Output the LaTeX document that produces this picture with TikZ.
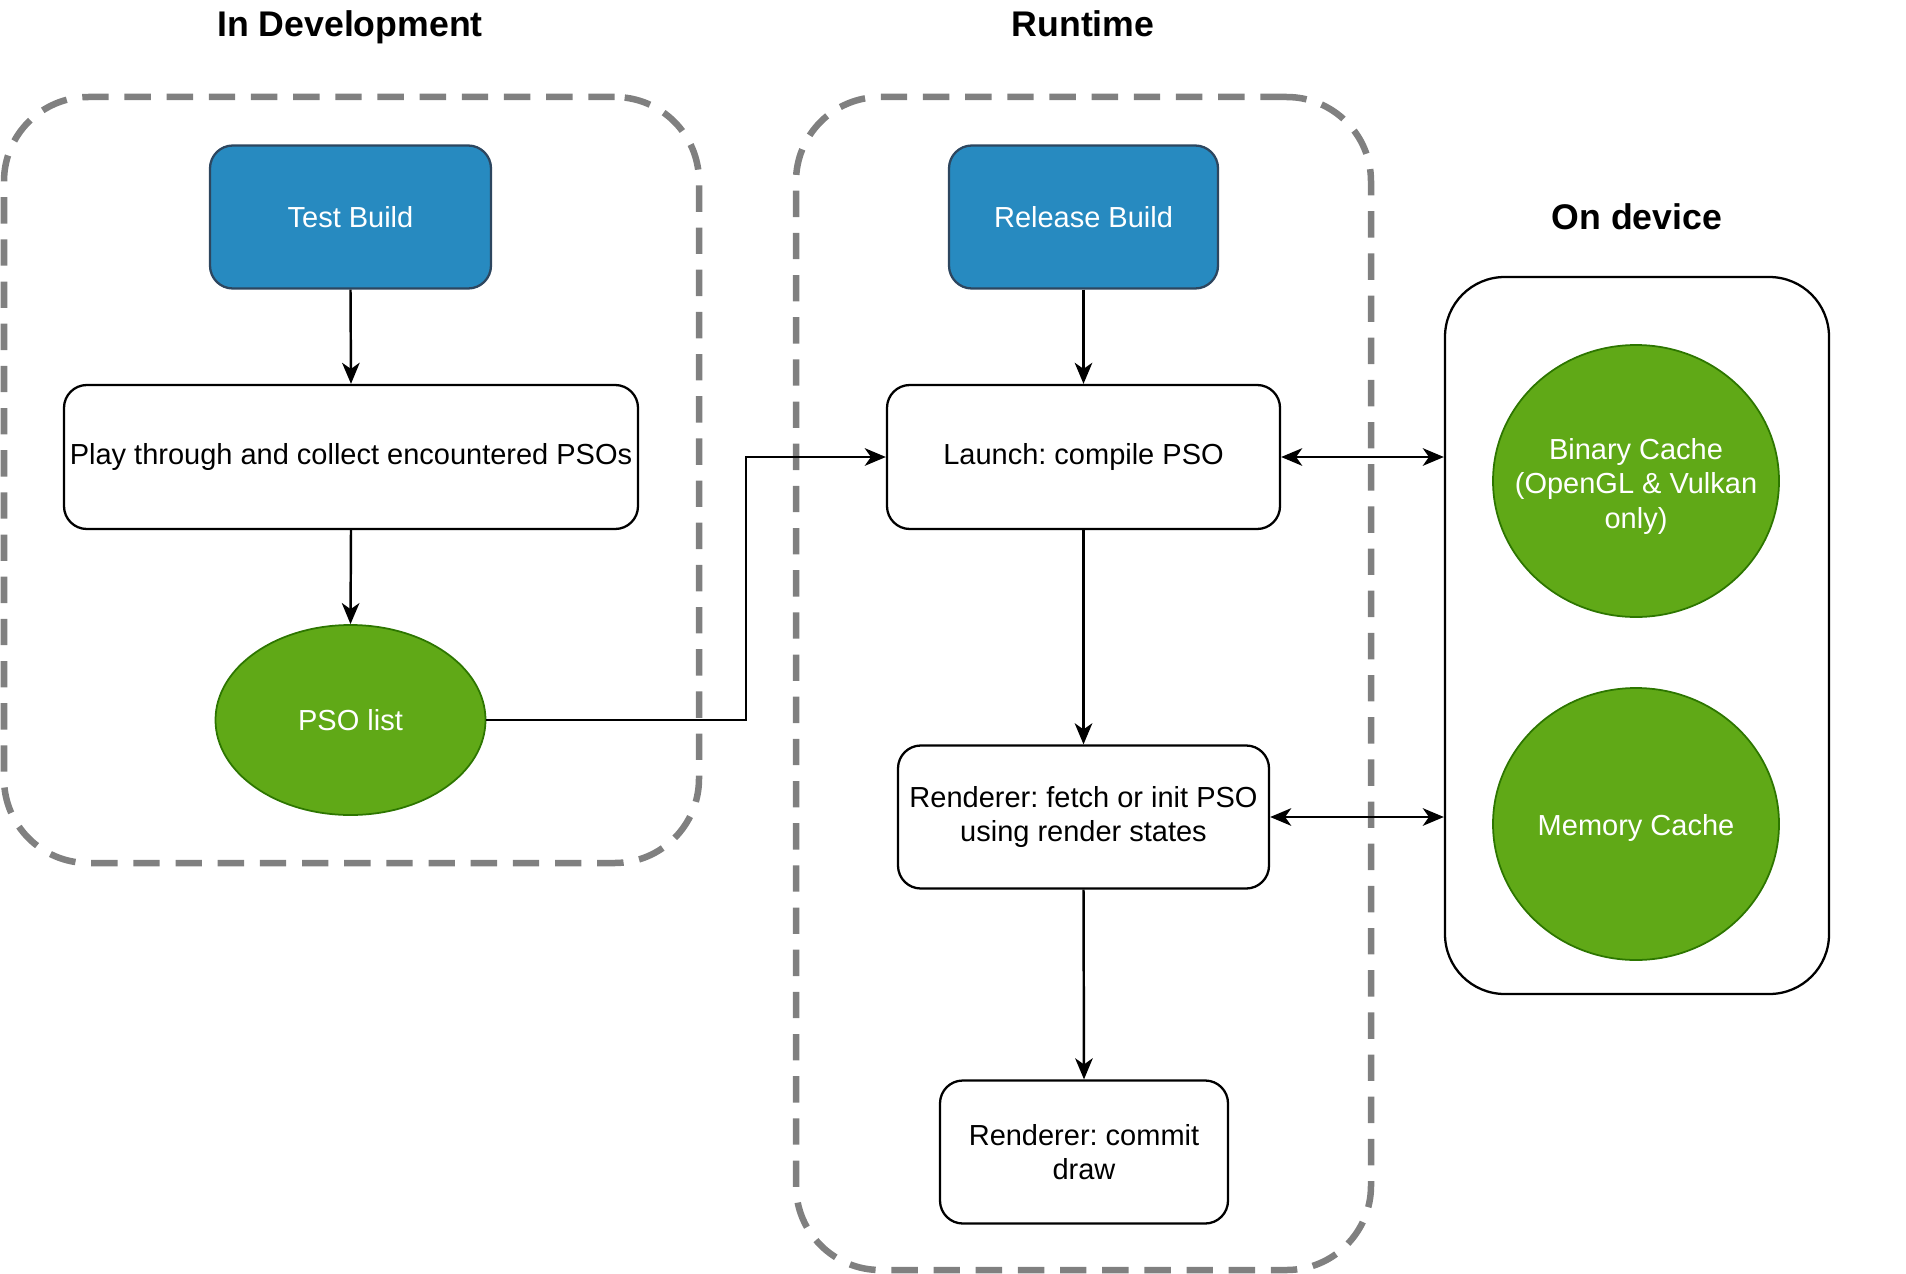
\documentclass[tikz,border=0pt]{standalone}
\usepackage{fontspec}
\setmainfont{Liberation Sans}
\usetikzlibrary{shapes.geometric,arrows.meta,calc}
\definecolor{bluefill}{RGB}{39,138,192}
\definecolor{blueline}{RGB}{45,70,95}
\definecolor{greenfill}{RGB}{96,169,23}
\definecolor{greenline}{RGB}{45,118,0}
\definecolor{groupgray}{RGB}{128,128,128}
\newdimen\pxu
\pxu=0.02cm
\frenchspacing
\begin{document}
\begin{tikzpicture}[x=0.02cm,y=-0.02cm,
  every node/.style={font=\fontsize{16.5}{19.6}\selectfont, inner sep=0pt, align=center},
  box/.style={draw=black, line width=1.3pt, rounded corners=13pt, fill=white},
  bluebox/.style={draw=blueline, line width=1.3pt, fill=bluefill, text=white, rounded corners=13pt},
  greenell/.style={ellipse, draw=greenline, line width=1pt, fill=greenfill},
  groupbox/.style={draw=groupgray, line width=3.7pt, dash pattern=on 15pt off 9pt, rounded corners=48pt},
  devicebox/.style={draw=black, line width=1.3pt, rounded corners=34pt},
  titletext/.style={font=\fontsize{20.3}{24}\selectfont\bfseries, anchor=base},
  arr/.style={line width=1.4pt, -{Stealth[length=12pt,width=10pt,inset=3.5pt]}},
  dbl/.style={line width=1.4pt, {Stealth[length=12pt,width=10pt,inset=3.5pt]}-{Stealth[length=12pt,width=10pt,inset=3.5pt]}},
  celltext/.style={text=white, align=center, font=\fontsize{16.5}{19.6}\selectfont},
]
\useasboundingbox (0,0) rectangle (1906,1274);

% group frames
\node[groupbox, minimum width=695\pxu, minimum height=766\pxu] (devgroup) at (351.5,480) {};
\node[groupbox, minimum width=575\pxu, minimum height=1173\pxu] (rungroup) at (1083.5,683.5) {};
\node[devicebox, minimum width=384\pxu, minimum height=717\pxu] (device) at (1637,635.5) {};

% titles
\node[titletext] (devtitle) at (350,37) {In Development};
\node[titletext] (runtitle) at (1083,37) {Runtime};
\node[titletext] (devicetitle) at (1637,229) {On device};

% development column
\node[bluebox, minimum width=281\pxu, minimum height=143\pxu] (testbuild) at (350.5,217) {Test Build};
\node[box, minimum width=574\pxu, minimum height=144\pxu] (play) at (351,457) {Play through and collect encountered PSOs};
\node[greenell, minimum width=270\pxu, minimum height=190\pxu, label={[celltext]center:PSO list}] (psolist) at (350.5,720) {};

% runtime column
\node[bluebox, minimum width=269\pxu, minimum height=143\pxu] (release) at (1083.5,217) {Release Build};
\node[box, minimum width=393\pxu, minimum height=144\pxu] (launch) at (1083.5,457) {Launch: compile PSO};
\node[box, minimum width=371\pxu, minimum height=143\pxu] (fetch) at (1083.5,817) {Renderer: fetch or init PSO\\using render states};
\node[box, minimum width=288\pxu, minimum height=143\pxu] (commit) at (1084,1152) {Renderer: commit\\draw};

% device caches
\node[greenell, minimum width=286\pxu, minimum height=272\pxu, label={[celltext, yshift=-3pt]center:Binary Cache\\(OpenGL \& Vulkan\\only)}] (binary) at (1636,481) {};
\node[greenell, minimum width=286\pxu, minimum height=272\pxu, label={[celltext, yshift=-2pt]center:Memory Cache}] (memory) at (1636,824) {};

% connectors
\coordinate (elbow) at (746,720);
\draw[arr] (testbuild.south) -- (play.north);
\draw[arr] (play.south) -- (psolist.north);
\draw[arr] (psolist.east) -- (elbow) |- (launch.west);
\draw[arr] (release.south) -- (launch.north);
\draw[arr] (launch.south) -- (fetch.north);
\draw[arr] (fetch.south) -- (commit.north);
\draw[dbl] (launch.east) -- (launch.east -| device.west);
\draw[dbl] (fetch.east) -- (fetch.east -| device.west);
\end{tikzpicture}
\end{document}
